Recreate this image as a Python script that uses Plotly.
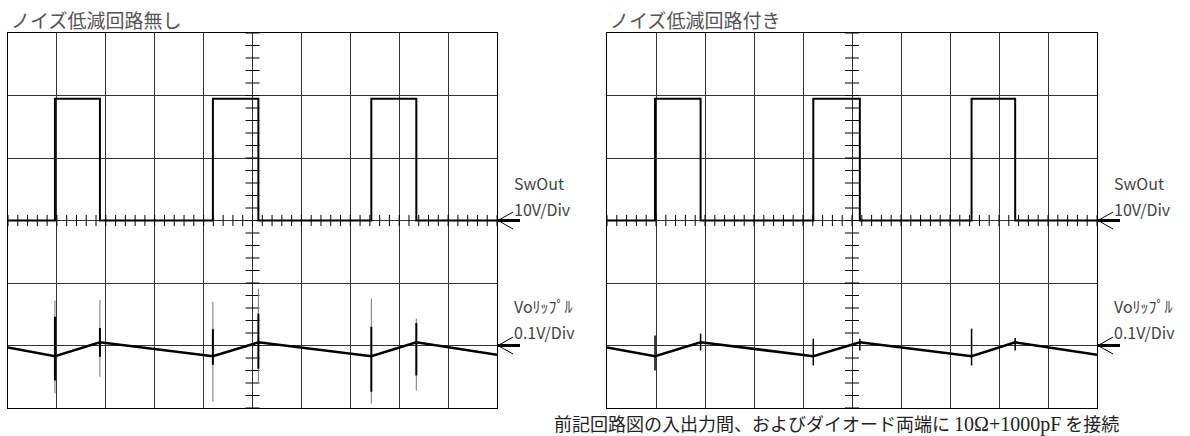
import numpy as np
import plotly.graph_objects as go

# screen geometry of the two scope panels (pixels)
W, H = 1190, 436
panel_x = [(8, 497), (607, 1097)]
panel_top, panel_bot = 33, 408

# volts per division
sw_vdiv = 10.0
vo_vdiv = 0.1
vo_ref_div = -2  # ripple trace reference line

# --- data (time in divisions) ---
titles = ["ノイズ低減回路無し", "ノイズ低減回路付き"]
ch_labels = [("SwOut", "10V/Div"), ("Voﾘｯﾌﾟﾙ", "0.1V/Div")]
caption = "前記回路図の入出力間、およびダイオード両端に"
caption_parts = "10Ω+1000pF"
caption_end = "を接続"

rise_l = [0.96, 4.19, 7.43]
fall_l = [1.88, 5.12, 8.35]
rise_r = [0.98, 4.21, 7.44]
fall_r = [1.91, 5.16, 8.33]
sw_high = 19.5  # V

# ripple knots in mV: start, then min at each rise / max at each fall, end
rip_l = [-3, -17, 5, -17, 5, -17, 5, -15]
rip_r = [-3, -17, 5, -17, 5, -17, 5, -15]

# switching spikes on ripple (mV), order: r1, f1, r2, f2, r3, f3
spk_l_top = [72, 73, 70, 91, 75, 43]
spk_l_bot = [-77, -50, -90, -58, -93, -72]
core_l_top = [46, 28, 26, 51, 30, 36]
core_l_bot = [-56, -18, -31, -37, -74, -48]
spk_r_top = [16, 19, 11, 11, 27, 12]
spk_r_bot = [-40, -8, -32, -8, -32, -8]


def square(rises, falls):
    xs, ys = [0], [0]
    for r, f in zip(rises, falls):
        xs += [r, r, f, f]
        ys += [0, sw_high, sw_high, 0]
    xs.append(10)
    ys.append(0)
    return xs, [v / sw_vdiv for v in ys]


def ripple(rises, falls, knots):
    times = [0]
    for r, f in zip(rises, falls):
        times += [r, f]
    times.append(10)
    return times, [vo_ref_div + k / 1000 / vo_vdiv for k in knots]


def spikes(rises, falls, tops, bots):
    times = []
    for r, f in zip(rises, falls):
        times += [r, f]
    xs, ys = [], []
    for t, a, b in zip(times, tops, bots):
        xs += [t, t, None]
        ys += [vo_ref_div + a / 1000 / vo_vdiv, vo_ref_div + b / 1000 / vo_vdiv, None]
    return xs, ys


fig = go.Figure()

panels = [
    dict(rise=rise_l, fall=fall_l, rip=rip_l,
         spk=[(spk_l_top, spk_l_bot, "#777", 1), (core_l_top, core_l_bot, "black", 2)]),
    dict(rise=rise_r, fall=fall_r, rip=rip_r,
         spk=[(spk_r_top, spk_r_bot, "black", 1.5)]),
]

minor_v = np.arange(-3, 3.001, 0.2)
minor_h = np.arange(0, 10.001, 0.2)

for i, p in enumerate(panels):
    xa = "x" if i == 0 else "x2"
    ya = "y" if i == 0 else "y2"
    # center-cross minor ticks
    fig.add_trace(go.Scatter(x=[5] * len(minor_v), y=minor_v, mode="markers",
                             marker=dict(symbol="line-ew", size=10, line=dict(width=1, color="black")),
                             xaxis=xa, yaxis=ya, hoverinfo="skip"))
    fig.add_trace(go.Scatter(x=minor_h, y=[0] * len(minor_h), mode="markers",
                             marker=dict(symbol="line-ns", size=8, line=dict(width=1, color="black")),
                             xaxis=xa, yaxis=ya, hoverinfo="skip"))
    sx, sy = square(p["rise"], p["fall"])
    fig.add_trace(go.Scatter(x=sx, y=sy, mode="lines", line=dict(color="black", width=2),
                             xaxis=xa, yaxis=ya))
    for tops, bots, col, w in p["spk"]:
        kx, ky = spikes(p["rise"], p["fall"], tops, bots)
        fig.add_trace(go.Scatter(x=kx, y=ky, mode="lines", line=dict(color=col, width=w),
                                 xaxis=xa, yaxis=ya, connectgaps=False))
    rx, ry = ripple(p["rise"], p["fall"], p["rip"])
    fig.add_trace(go.Scatter(x=rx, y=ry, mode="lines", line=dict(color="black", width=2.5),
                             xaxis=xa, yaxis=ya))

ydom = [(H - panel_bot) / H, (H - panel_top) / H]
axis_common = dict(showgrid=True, gridcolor="#333", gridwidth=1, dtick=1, tick0=0,
                   showticklabels=False, ticks="", zeroline=False,
                   showline=True, linecolor="black", linewidth=1, mirror=True, fixedrange=True)

fig.update_layout(
    width=W, height=H,
    margin=dict(l=0, r=0, t=0, b=0),
    paper_bgcolor="white", plot_bgcolor="white",
    showlegend=False,
    font=dict(family="Noto Sans CJK JP", color="#444"),
    xaxis=dict(domain=[panel_x[0][0] / W, panel_x[0][1] / W], range=[0, 10], anchor="y", **axis_common),
    yaxis=dict(domain=ydom, range=[-3, 3], anchor="x", **axis_common),
    xaxis2=dict(domain=[panel_x[1][0] / W, panel_x[1][1] / W], range=[0, 10], anchor="y2", **axis_common),
    yaxis2=dict(domain=ydom, range=[-3, 3], anchor="x2", **axis_common),
)

label_font = dict(family="Noto Sans CJK JP", size=16, color="#444")
ann = []
shapes = []
for i, (x0, x1) in enumerate(panel_x):
    ya = "y" if i == 0 else "y2"
    ann.append(dict(text=titles[i], x=(x0 + 1) / W, y=(H - 20) / H, xref="paper", yref="paper",
                    xanchor="left", yanchor="middle", showarrow=False,
                    font=dict(size=19, color="#555")))
    lx = (x1 + 15) / W
    for (top, bot), (py1, py2) in zip(ch_labels, [(183, 209), (306, 332)]):
        ann.append(dict(text=top, x=lx, y=(H - py1) / H, xref="paper", yref="paper",
                        xanchor="left", yanchor="middle", showarrow=False, font=label_font))
        ann.append(dict(text=bot, x=lx, y=(H - py2) / H, xref="paper", yref="paper",
                        xanchor="left", yanchor="middle", showarrow=False, font=label_font))
    # marker arrows at the right edge
    for yv in [0, vo_ref_div]:
        tip = (x1 + 1) / W
        barb = (x1 + 16) / W
        end = (x1 + 23) / W
        dy = 8.5 / ((panel_bot - panel_top) / 6)
        shapes.append(dict(type="path", xref="paper", yref=ya,
                           path=f"M {barb} {yv + dy} L {tip} {yv} L {barb} {yv - dy}",
                           line=dict(color="black", width=1)))
        shapes.append(dict(type="line", xref="paper", yref=ya, x0=tip, x1=end, y0=yv, y1=yv,
                           line=dict(color="black", width=3)))

ann.append(dict(text=caption + " <span style='font-family:Liberation Serif;font-size:20px'>"
                + caption_parts + "</span> " + caption_end,
                x=552 / W, y=(H - 423) / H, xref="paper", yref="paper",
                xanchor="left", yanchor="middle", showarrow=False,
                font=dict(size=18, color="#222")))

fig.update_layout(annotations=ann, shapes=shapes)

fig.write_html("out.html", config={"displayModeBar": False},
               post_script="document.body.style.margin='0';")
